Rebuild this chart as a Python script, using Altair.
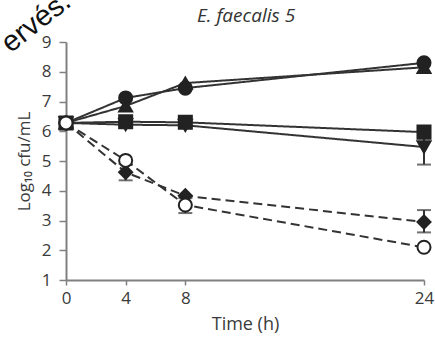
import altair as alt
import pandas as pd

times = [0, 4, 8, 24]
y_ticks = [1, 2, 3, 4, 5, 6, 7, 8, 9]
series_names = ["circle", "triangle", "square", "invtri", "diamond", "open"]
circle_vals = [6.28, 7.12, 7.45, 8.3]
triangle_vals = [6.28, 6.85, 7.62, 8.15]
square_vals = [6.28, 6.32, 6.3, 5.97]
invtri_vals = [6.28, 6.22, 6.2, 5.47]
diamond_vals = [6.28, 4.62, 3.83, 2.95]
open_vals = [6.28, 5.02, 3.52, 2.1]
line_style = ["solid", "solid", "solid", "solid", "dashed", "dashed"]

# error bars: series, time, low, high
err_series = ["diamond", "open", "invtri", "diamond"]
err_time = [4, 8, 24, 24]
err_low = [4.35, 3.25, 4.88, 2.6]
err_high = [4.9, 3.75, 6.0, 3.35]

all_vals = [circle_vals, triangle_vals, square_vals, invtri_vals, diamond_vals, open_vals]
rows = []
for name, vals, sty in zip(series_names, all_vals, line_style):
    for t, v in zip(times, vals):
        rows.append({"series": name, "time": t, "value": v, "style": sty})
df = pd.DataFrame(rows)
err_df = pd.DataFrame({"series": err_series, "time": err_time, "low": err_low, "high": err_high})

FONT = "Open Sans"
LABEL_COLOR = "#3a3a3a"
x_scale = alt.Scale(domain=[0, 24], nice=False, zero=False)
y_scale = alt.Scale(domain=[1, 9], nice=False, zero=False)

x_axis = alt.Axis(values=times, title="Time (h)", labelOverlap=False, titleFontSize=18,
                  labelPadding=5, titlePadding=9, tickSize=5)
y_axis = alt.Axis(values=y_ticks, title="Log₁₀ cfu/mL", labelOverlap=False, titleFontSize=17,
                  labelPadding=8, titlePadding=8, tickSize=7)

base = alt.Chart(df)
lines = base.mark_line(strokeWidth=2, color="#333333").encode(
    x=alt.X("time:Q", scale=x_scale, axis=x_axis),
    y=alt.Y("value:Q", scale=y_scale, axis=y_axis),
    detail="series:N",
    strokeDash=alt.StrokeDash("style:N", scale=alt.Scale(domain=["solid", "dashed"], range=[[1, 0], [9, 5]]), legend=None),
)

shape_scale = alt.Scale(domain=series_names,
                        range=["circle", "triangle-up", "square", "triangle-down", "diamond", "circle"])
fill_scale = alt.Scale(domain=series_names,
                       range=["#222222", "#222222", "#222222", "#222222", "#222222", "white"])

ebase = alt.Chart(err_df)
err_rules = ebase.mark_rule(color="#333333", strokeWidth=2).encode(
    x=alt.X("time:Q", scale=x_scale, axis=x_axis), y=alt.Y("low:Q", scale=y_scale, axis=y_axis), y2="high:Q")
caps_low = ebase.mark_tick(color="#333333", orient="horizontal", size=14, thickness=2).encode(
    x=alt.X("time:Q", scale=x_scale, axis=x_axis), y=alt.Y("low:Q", scale=y_scale, axis=y_axis))
caps_high = ebase.mark_tick(color="#333333", orient="horizontal", size=14, thickness=2).encode(
    x=alt.X("time:Q", scale=x_scale, axis=x_axis), y=alt.Y("high:Q", scale=y_scale, axis=y_axis))

points = base.mark_point(size=170, strokeWidth=2, stroke="#222222", opacity=1).encode(
    x=alt.X("time:Q", scale=x_scale, axis=x_axis),
    y=alt.Y("value:Q", scale=y_scale, axis=y_axis),
    shape=alt.Shape("series:N", scale=shape_scale, legend=None),
    fill=alt.Fill("series:N", scale=fill_scale, legend=None),
)

title = alt.Chart(pd.DataFrame({"t": ["E. faecalis 5"]})).mark_text(
    font=FONT, fontSize=19, fontStyle="italic", color="#333333", align="center", baseline="middle"
).encode(text="t:N", x=alt.value(180), y=alt.value(-26))

watermark = alt.Chart(pd.DataFrame({"w": ["ervés."]})).mark_text(
    font="Liberation Sans", fontSize=29, color="#111111", angle=322, align="center", baseline="middle"
).encode(text="w:N", x=alt.value(-30), y=alt.value(-20))

chart = alt.layer(lines, err_rules, caps_low, caps_high, points, title, watermark).properties(
    width=358, height=238, autosize=alt.AutoSizeParams(type="none"),
    padding={"left": 66, "top": 42, "right": 11, "bottom": 58},
).configure_view(stroke=None).configure_axis(
    grid=False, domainColor="#808080", domainWidth=2, tickColor="#808080", tickWidth=1.5,
    labelFont=FONT, labelFontSize=17, labelColor=LABEL_COLOR, labelOverlap=False,
    labelFlush=False, titleFont=FONT, titleFontWeight="normal", titleColor=LABEL_COLOR,
)

chart.save("out.html", embed_options={"renderer": "svg", "actions": False})
